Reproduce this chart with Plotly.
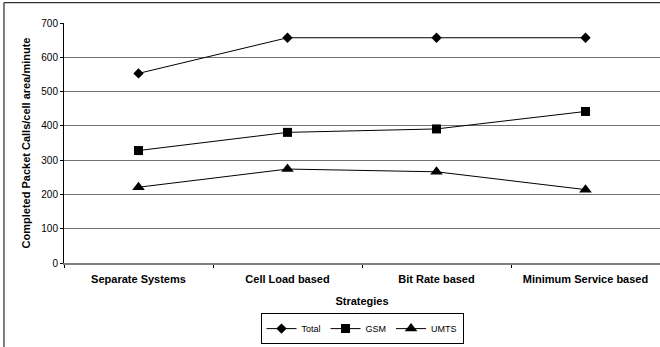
import plotly.graph_objects as go

# Strategy categories and completed packet calls per cell area per minute
strategies = ["Separate Systems", "Cell Load based", "Bit Rate based", "Minimum Service based"]
total = [553, 657, 657, 657]
gsm = [328, 381, 391, 442]
umts = [221, 274, 266, 214]

series = [
    ("Total", total, "diamond", 8),
    ("GSM", gsm, "square", 9),
    ("UMTS", umts, "triangle-up", 11),
]

FONT = "Liberation Sans, Arial, sans-serif"

fig = go.Figure()
for name, vals, sym, size in series:
    fig.add_trace(go.Scatter(
        x=strategies, y=vals, name=name, mode="lines+markers",
        line=dict(color="black", width=1),
        marker=dict(symbol=sym, size=size, color="black"),
    ))

fig.update_layout(
    width=660, height=347,
    margin=dict(l=64, r=0, t=23, b=84, autoexpand=False),
    paper_bgcolor="white", plot_bgcolor="white",
    font=dict(family=FONT, size=10, color="black"),
    showlegend=True,
    legend=dict(
        orientation="h", x=0.5, xanchor="center", y=-0.338, yanchor="bottom",
        bordercolor="black", borderwidth=1, bgcolor="white",
        font=dict(size=9), itemwidth=30, tracegroupgap=0,
    ),
    xaxis=dict(
        type="category", tickson="boundaries", ticks="outside", ticklen=3,
        tickcolor="black", showgrid=False, showline=True, linecolor="#808080",
        linewidth=2, tickfont=dict(size=11, family=FONT, weight="bold"),
        ticklabelstandoff=5,
        title=dict(text="<b>Strategies</b>", font=dict(size=11), standoff=13),
        range=[-0.5, 3.5], fixedrange=True,
    ),
    yaxis=dict(
        range=[0, 700], dtick=100, showgrid=True, gridcolor="#707070",
        gridwidth=1, showline=True, linecolor="black", linewidth=1,
        ticks="outside", ticklen=3, tickcolor="black", zeroline=False,
        tickfont=dict(size=10),
        title=dict(text="<b>Completed Packet Calls/cell area/minute</b>",
                   font=dict(size=11), standoff=8),
    ),
    shapes=[dict(
        type="rect", xref="paper", yref="paper",
        x0=-0.1007, x1=1.05, y0=-0.5, y1=1.0846,
        line=dict(color="black", width=1), fillcolor="rgba(0,0,0,0)",
        layer="above",
    )],
)

fig.write_html("out.html")
